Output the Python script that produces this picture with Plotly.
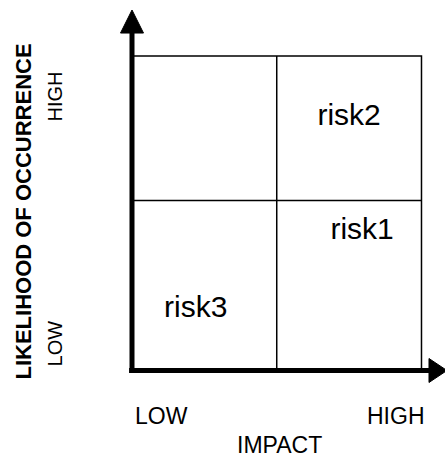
import plotly.graph_objects as go

# ---- data ----
risk_names = ["risk1", "risk2", "risk3"]
risk_impact = [1.59, 1.50, 0.44]        # x: impact (LOW..HIGH)
risk_likelihood = [0.885, 1.61, 0.39]   # y: likelihood (LOW..HIGH)

x_grid = [0, 1.0, 2.0]                   # impact cell boundaries
y_grid = [0, 1.081, 2.0]                 # likelihood cell boundaries

x_tick_labels = ["LOW", "HIGH"]
x_tick_pos = [0.207, 1.827]
y_tick_labels = ["LOW", "HIGH"]
y_tick_pos = [0.172, 1.742]
x_title = "IMPACT"
y_title = "LIKELIHOOD OF OCCURRENCE"

FONT = "Liberation Sans, Arial, sans-serif"

fig = go.Figure()

fig.add_trace(go.Scatter(
    x=risk_impact, y=risk_likelihood, mode="text", text=risk_names,
    textposition="middle center",
    textfont=dict(family=FONT, size=30, color="black"),
    hoverinfo="skip", showlegend=False, cliponaxis=False,
))

shapes = []
thin = dict(color="black", width=1.5)
x0, xm, x1 = x_grid
y0, ym, y1 = y_grid
shapes.append(dict(type="rect", x0=x0, y0=y0, x1=x1, y1=y1, line=thin, layer="below"))
shapes.append(dict(type="line", x0=xm, y0=y0, x1=xm, y1=y1, line=thin, layer="below"))
shapes.append(dict(type="line", x0=x0, y0=ym, x1=x1, y1=ym, line=thin, layer="below"))
thick = dict(color="black", width=5)
shapes.append(dict(type="line", x0=0, y0=-0.016, x1=0, y1=2.15, line=thick))
shapes.append(dict(type="line", x0=-0.02, y0=0, x1=2.055, y1=0, line=thick))
shapes.append(dict(type="path",
                   path="M -0.0794,2.146 L 0.0794,2.146 L 0,2.2925 Z",
                   fillcolor="black", line=dict(color="black", width=1)))
shapes.append(dict(type="path",
                   path="M 2.0518,-0.0763 L 2.0518,0.0763 L 2.176,0 Z",
                   fillcolor="black", line=dict(color="black", width=1)))

annotations = []
for lab, xp in zip(x_tick_labels, x_tick_pos):
    annotations.append(dict(x=xp, y=-0.2925, xref="x", yref="y", text=lab,
                            showarrow=False,
                            font=dict(family=FONT, size=23, color="black")))
annotations.append(dict(x=1.019, y=-0.474, xref="x", yref="y", text=x_title,
                        showarrow=False,
                        font=dict(family=FONT, size=23, color="black")))
for lab, yp in zip(y_tick_labels, y_tick_pos):
    annotations.append(dict(x=-0.532, y=yp, xref="x", yref="y", text=lab,
                            showarrow=False, textangle=-90,
                            font=dict(family=FONT, size=20, color="black")))
annotations.append(dict(x=-0.746, y=1.011, xref="x", yref="y",
                        text="<b>" + y_title + "</b>",
                        showarrow=False, textangle=-90,
                        font=dict(family=FONT, size=22, color="black")))

fig.update_layout(
    width=445, height=457,
    margin=dict(l=0, r=0, t=0, b=0),
    paper_bgcolor="white", plot_bgcolor="white",
    xaxis=dict(range=[-0.9119, 2.1624], visible=False, fixedrange=True),
    yaxis=dict(range=[-0.5501, 2.3561], visible=False, fixedrange=True),
    shapes=shapes, annotations=annotations,
    showlegend=False,
)

fig.write_html("out.html", config={"displayModeBar": False},
               post_script="document.body.style.margin='0';")
